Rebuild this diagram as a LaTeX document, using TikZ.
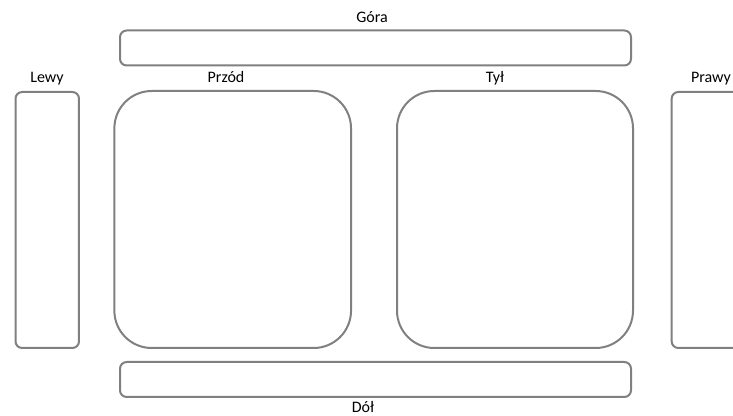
\documentclass[tikz,border=0pt]{standalone}
\usepackage{fontspec}
\setmainfont{Carlito}
\usepackage{tikz}
\usetikzlibrary{positioning}
\definecolor{boxgray}{RGB}{128,128,128}
\tikzstyle{face} = [draw=boxgray, line width=1.5pt, inner sep=0pt, outer sep=0pt]
\tikzstyle{facelabel} = [anchor=base, inner sep=0pt, font=\fontsize{12pt}{14pt}\selectfont]

\begin{document}
\begin{tikzpicture}[x=0.75pt, y=-0.75pt]

				\useasboundingbox (0,0) rectangle (733,416);
				\clip (0,0) rectangle (733,416);

				% Top and bottom
				\node[face, rounded corners=5pt, minimum width=383.25pt, minimum height=26.25pt] (top) at (375.5,48) {};
				\node[face, rounded corners=5pt, minimum width=383.25pt, minimum height=26.25pt] (bottom) at (375.5,379.5) {};

				% Sides
				\node[face, rounded corners=5pt, minimum width=47.6pt, minimum height=192pt] (left) at (47.25,220) {};
				\node[face, rounded corners=5pt, minimum width=59pt, minimum height=192pt] (right) at (711,220) {};

				% Front and back
				\node[face, rounded corners=28pt, minimum width=177.5pt, minimum height=192.75pt] (front) at (232.7,219.5) {};
				\node[face, rounded corners=28pt, minimum width=177pt, minimum height=192.75pt] (back) at (515,219.5) {};

				% Labels
				\node[facelabel] (ltop) at (372,23) {Góra};
				\node[facelabel] (lbottom) at (363,413) {Dół};
				\node[facelabel] (lleft) at (47,83) {Lewy};
				\node[facelabel] (lfront) at (226,83) {Przód};
				\node[facelabel] (lback) at (495,83) {Tył};
				\node[facelabel] (lright) at (711,83) {Prawy};

\end{tikzpicture}
\end{document}
